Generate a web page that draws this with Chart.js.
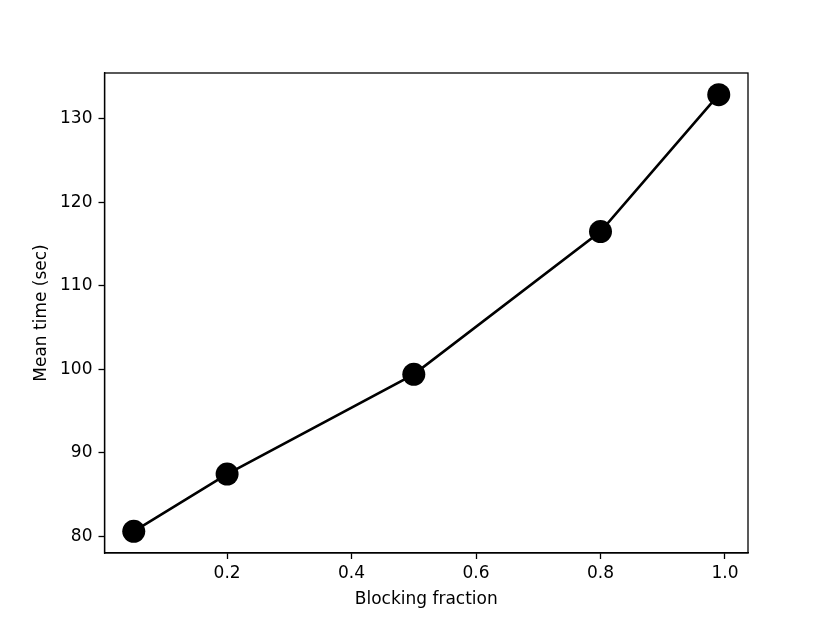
<!DOCTYPE html>
<html>
<head>
<meta charset="utf-8">
<script src="https://cdn.jsdelivr.net/npm/chart.js@4"></script>
<style>
  body { margin: 0; background: #fff; }
  #wrap { width: 830px; height: 622px; }
</style>
</head>
<body>
<div id="wrap"><canvas id="chart" width="830" height="622"></canvas></div>
<script>
var blockingFraction = [0.05, 0.2, 0.5, 0.8, 0.99];
var meanTime = [80.6, 87.45, 99.4, 116.5, 132.9];
var xTicks = [0.2, 0.4, 0.6, 0.8, 1.0];
var yTicks = [80, 90, 100, 110, 120, 130];

var font = { family: "DejaVu Sans", size: 17 };

// draws the top and right spines like matplotlib
var boxPlugin = {
  id: "box",
  afterDraw: function (chart) {
    var a = chart.chartArea;
    var ctx = chart.ctx;
    ctx.save();
    ctx.strokeStyle = "#000";
    ctx.lineWidth = 1.3;
    ctx.strokeRect(a.left, a.top, a.right - a.left, a.bottom - a.top);
    ctx.restore();
  },
};

new Chart(document.getElementById("chart"), {
  type: "line",
  data: {
    datasets: [
      {
        data: blockingFraction.map(function (x, i) {
          return { x: x, y: meanTime[i] };
        }),
        borderColor: "#000",
        backgroundColor: "#000",
        borderWidth: 2.6,
        pointRadius: 11.5,
        pointHoverRadius: 11.5,
        pointBackgroundColor: "#000",
        pointBorderWidth: 0,
        tension: 0,
      },
    ],
  },
  options: {
    responsive: false,
    animation: false,
    events: [],
    layout: { padding: { top: 73, right: 82, left: 0, bottom: 0 } },
    plugins: { legend: { display: false }, tooltip: { enabled: false } },
    scales: {
      x: {
        type: "linear",
        min: 0.003,
        max: 1.037,
        afterBuildTicks: function (s) {
          s.ticks = xTicks.map(function (v) { return { value: v }; });
        },
        afterFit: function (s) { s.height = 69; },
        ticks: {
          color: "#000",
          font: font,
          padding: 4,
          callback: function (v) { return v.toFixed(1); },
        },
        grid: {
          drawOnChartArea: false,
          tickLength: 6,
          tickColor: "#000",
          tickWidth: 1.3,
        },
        border: { color: "#000", width: 1.3 },
        title: {
          display: true,
          text: "Blocking fraction",
          color: "#000",
          font: font,
          padding: { top: 0, bottom: 12 },
        },
      },
      y: {
        min: 78.0,
        max: 135.5,
        afterBuildTicks: function (s) {
          s.ticks = yTicks.map(function (v) { return { value: v }; });
        },
        afterFit: function (s) { s.width = 104.5; },
        ticks: { color: "#000", font: font, padding: 6 },
        grid: {
          drawOnChartArea: false,
          tickLength: 6,
          tickColor: "#000",
          tickWidth: 1.3,
        },
        border: { color: "#000", width: 1.3 },
        title: {
          display: true,
          text: "Mean time (sec)",
          color: "#000",
          font: font,
          padding: { top: 31, bottom: 0 },
        },
      },
    },
  },
  plugins: [boxPlugin],
});
</script>
</body>
</html>
